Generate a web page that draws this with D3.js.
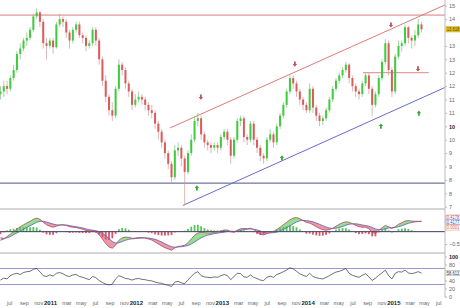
<!DOCTYPE html>
<html>
<head>
<meta charset="utf-8">
<script src="https://cdn.jsdelivr.net/npm/d3@7"></script>
<style>
body { margin: 0; background: #fff; }
svg { display: block; font-family: "Liberation Sans", Arial, sans-serif; }
</style>
</head>
<body>
<div id="chart"></div>
<script>
// biweekly candles, first one on 2010-06-04
var opens = [11.2,11.3,11.5,11.4,11.8,12.1,12.7,12.9,13.2,13.3,13.6,14.1,14.25,13.9,13.1,13.0,13.2,12.95,13.8,14.0,
	13.9,13.5,13.2,13.6,13.8,13.4,13.3,13.0,13.1,13.6,13.2,12.5,11.7,11.1,10.6,10.4,11.4,12.3,12.1,11.6,
	11.3,10.8,11.0,11.1,11.0,10.8,10.6,10.5,10.1,9.8,9.4,9.0,8.6,8.1,9.1,9.2,8.8,8.3,9.0,9.5,
	10.2,10.3,9.7,9.4,9.3,9.2,9.3,9.2,9.6,9.8,9.5,8.9,9.5,10.2,10.3,9.6,9.5,10.1,9.5,9.2,
	8.9,8.8,9.5,9.7,9.4,10.0,10.4,10.8,11.3,11.8,11.6,11.3,11.0,10.8,10.6,11.4,10.7,10.4,10.2,10.3,
	10.6,11.0,11.4,11.7,11.9,12.1,12.3,11.8,11.5,11.3,11.2,11.6,11.9,11.4,10.8,11.2,11.8,12.4,13.1,12.1,
	11.3,12.6,13.0,13.1,13.7,13.3,13.2,13.4,13.8];
var highs = [11.5,11.7,11.7,11.9,12.3,12.8,13.1,13.3,13.5,13.7,14.2,14.4,14.3,14.0,13.3,13.3,13.3,13.9,14.2,14.1,
	14.0,13.6,13.7,13.9,13.9,13.5,13.4,13.2,13.7,13.7,13.3,12.6,11.9,11.2,10.9,11.5,12.5,12.4,12.2,11.7,
	11.4,11.2,11.3,11.2,11.1,10.9,10.8,10.6,10.2,9.9,9.5,9.1,8.7,9.3,9.4,9.3,8.9,9.1,9.7,10.4,
	10.5,10.4,9.8,9.5,9.4,9.4,9.4,9.7,9.9,9.9,9.6,9.6,10.3,10.4,10.4,9.7,10.2,10.2,9.6,9.3,
	9.0,9.6,9.9,9.8,10.1,10.5,10.9,11.4,11.9,11.9,11.7,11.4,11.1,10.9,11.6,11.5,10.8,10.5,10.4,10.7,
	11.1,11.5,11.8,12.0,12.2,12.4,12.35,11.9,11.6,11.4,11.7,12.0,12.0,11.5,11.3,11.9,12.5,13.25,13.2,12.2,
	12.7,13.2,13.2,13.8,13.75,13.4,13.6,14.0,13.9];
var lows = [11.0,11.1,11.2,11.3,11.7,12.0,12.5,12.8,13.0,13.2,13.5,14.0,13.7,12.9,12.5,12.9,12.7,12.9,13.7,13.7,
	13.3,12.9,13.1,13.5,13.3,13.1,12.8,12.9,13.0,13.0,12.3,11.5,10.9,10.4,10.2,10.3,11.3,11.9,11.4,11.1,
	10.6,10.7,10.9,10.8,10.6,10.4,10.3,9.9,9.5,9.2,8.8,8.4,7.9,8.0,8.9,8.5,7.05,8.2,8.9,9.4,
	10.0,9.5,9.2,9.1,9.0,9.1,9.0,9.1,9.5,9.3,8.6,8.8,9.4,10.0,9.4,9.3,9.4,9.3,9.0,8.7,
	8.6,8.7,9.4,9.2,9.3,9.9,10.3,10.7,11.2,11.4,11.1,10.8,10.6,10.5,10.5,10.5,10.2,10.0,10.05,10.2,
	10.5,10.9,11.3,11.6,11.8,12.0,11.6,11.3,11.1,11.0,11.1,11.5,11.2,10.4,10.7,11.1,11.7,12.3,11.9,11.1,
	11.2,12.5,12.8,13.0,13.1,12.9,13.0,13.3,13.5];
var closes = [11.3,11.5,11.4,11.8,12.1,12.7,12.9,13.2,13.3,13.6,14.1,14.25,13.9,13.1,13.0,13.2,12.95,13.8,14.0,13.9,
	13.5,13.2,13.6,13.8,13.4,13.3,13.0,13.1,13.6,13.2,12.5,11.7,11.1,10.6,10.4,11.4,12.3,12.1,11.6,11.3,
	10.8,11.0,11.1,11.0,10.8,10.6,10.5,10.1,9.8,9.4,9.0,8.6,8.1,9.1,9.2,8.8,8.3,9.0,9.5,10.2,
	10.3,9.7,9.4,9.3,9.2,9.3,9.2,9.6,9.8,9.5,8.9,9.5,10.2,10.3,9.6,9.5,10.1,9.5,9.2,8.9,
	8.8,9.5,9.7,9.4,10.0,10.4,10.8,11.3,11.8,11.6,11.3,11.0,10.8,10.6,11.4,10.7,10.4,10.2,10.3,10.6,
	11.0,11.4,11.7,11.9,12.1,12.3,11.8,11.5,11.3,11.2,11.6,11.9,11.4,10.8,11.2,11.8,12.4,13.1,12.1,11.3,
	12.6,13.0,13.1,13.7,13.3,13.2,13.4,13.8,13.618];

var macdLine = [-0.35,-0.3,-0.2,-0.1,0.0,0.1,0.2,0.28,0.35,0.42,0.5,0.55,0.5,0.38,0.28,0.22,0.18,0.22,0.27,0.28,
	0.25,0.2,0.18,0.17,0.13,0.1,0.05,0.02,0.04,0.0,-0.12,-0.3,-0.48,-0.62,-0.67,-0.55,-0.35,-0.25,-0.22,-0.23,
	-0.27,-0.26,-0.24,-0.24,-0.26,-0.3,-0.34,-0.42,-0.5,-0.58,-0.65,-0.7,-0.75,-0.66,-0.6,-0.58,-0.55,-0.45,-0.3,-0.15,
	-0.05,-0.03,-0.04,-0.05,-0.05,-0.03,-0.01,0.02,0.06,0.07,0.0,-0.02,0.06,0.12,0.13,0.12,0.14,0.08,-0.02,-0.1,
	-0.13,-0.08,-0.03,0.0,0.08,0.18,0.28,0.38,0.48,0.55,0.57,0.53,0.45,0.37,0.35,0.28,0.2,0.13,0.08,0.06,
	0.08,0.14,0.22,0.3,0.36,0.4,0.38,0.32,0.26,0.2,0.18,0.18,0.12,-0.02,-0.08,0.05,0.16,0.25,0.2,0.13,
	0.2,0.3,0.36,0.43,0.45,0.43,0.42,0.42,0.4178];
var signalLine = [-0.25,-0.27,-0.25,-0.2,-0.12,-0.05,0.02,0.1,0.17,0.24,0.31,0.38,0.42,0.42,0.39,0.35,0.31,0.28,0.27,0.27,
	0.27,0.25,0.22,0.2,0.18,0.15,0.11,0.08,0.06,0.04,0.0,-0.07,-0.16,-0.28,-0.4,-0.46,-0.45,-0.4,-0.35,-0.31,
	-0.29,-0.28,-0.27,-0.26,-0.25,-0.26,-0.28,-0.31,-0.36,-0.42,-0.49,-0.55,-0.61,-0.63,-0.62,-0.61,-0.59,-0.56,-0.5,-0.42,
	-0.33,-0.25,-0.19,-0.14,-0.11,-0.08,-0.06,-0.04,-0.02,0.01,0.02,0.01,0.02,0.05,0.08,0.1,0.11,0.1,0.07,0.03,
	-0.02,-0.05,-0.05,-0.04,-0.02,0.03,0.09,0.16,0.24,0.32,0.39,0.44,0.46,0.45,0.43,0.4,0.35,0.3,0.24,0.19,
	0.15,0.13,0.14,0.17,0.21,0.26,0.3,0.32,0.32,0.3,0.27,0.25,0.22,0.17,0.11,0.08,0.09,0.12,0.15,0.16,
	0.17,0.2,0.24,0.29,0.34,0.37,0.4,0.41,0.4177];
var rsiLine = [41,46,44,52,56,58,55,60,62,63,68,70,62,52,50,54,51,58,60,57,
	52,50,54,55,50,48,45,42,50,47,40,35,31,29,31,44,52,49,45,44,
	41,44,45,43,42,40,39,36,34,33,30,28,25,36,38,34,32,42,50,58,
	62,52,49,48,47,49,48,52,55,52,42,50,58,57,49,48,54,48,45,41,
	40,48,51,48,55,58,62,66,72,69,63,57,53,50,58,50,47,45,44,48,
	52,57,61,63,66,70,58,53,50,48,53,57,49,40,46,53,59,66,52,44,
	58,62,61,66,59,57,59,62,58.613];

var priceTicks = [14.5, 14, 13, 12.5, 12, 11.5, 11, 10.5, 10, 9.5, 9, 8.5, 8, 7.5, 7];
var macdTicks = [-0.5];
var rsiTicks = [100, 80, 40, 20, 0];

// signals and drawn lines (date, price)
var sellDates = ["2012-10-04", "2013-11-08", "2014-12-22", "2015-04-16"];
var sellPrices = [11.09, 12.32, 13.78, 12.14];
var buyDates = ["2012-09-17", "2013-09-14", "2014-11-09", "2015-04-20"];
var buyPrices = [7.7, 8.82, 10.01, 10.49];
var upperChannel = [["2012-05-26", 9.94], ["2015-08-09", 14.53]];
var lowerChannel = [["2012-07-20", 7.05], ["2015-08-09", 11.45]];
var resistance = 14.15, support = 7.88;
var midLine = [["2014-08-25", 12.0], ["2015-06-01", 12.0]];

var parse = d3.timeParse("%Y-%m-%d");
var firstDate = new Date(2010, 5, 4);
var dates = closes.map(function(d, i) { return d3.timeDay.offset(firstDate, 14 * i); });

var width = 460, height = 308, plotRight = 445;

var svg = d3.select("#chart")
	.append("svg")
		.attr("width", width)
		.attr("height", height);

var x = d3.scaleTime()
	.domain([new Date(2010, 5, 2), new Date(2015, 7, 9)])
	.range([0, plotRight]);
var y = d3.scaleLinear().domain([7, 14.5]).range([206.7, 5.7]);
var yM = d3.scaleLinear().domain([-0.5, 1]).range([244, 207]);
var yR = d3.scaleLinear().domain([0, 100]).range([296.5, 256.5]);

svg.append("clipPath").attr("id", "mainClip")
	.append("rect").attr("x", 0).attr("y", 0).attr("width", plotRight).attr("height", 208);
svg.append("clipPath").attr("id", "macdClip")
	.append("rect").attr("x", 0).attr("y", 210).attr("width", plotRight).attr("height", 42);

// panel separators
[209, 253].forEach(function(v) {
	svg.append("rect").attr("x", 0).attr("y", v - 1).attr("width", plotRight).attr("height", 2).attr("fill", "#d6d6d6");
});

var main = svg.append("g").attr("clip-path", "url(#mainClip)");

// horizontal levels
main.append("line").attr("x1", 0).attr("x2", plotRight)
	.attr("y1", y(resistance)).attr("y2", y(resistance))
	.attr("stroke", "#e07a7a").attr("stroke-width", 1);
main.append("line").attr("x1", 0).attr("x2", plotRight)
	.attr("y1", y(support)).attr("y2", y(support))
	.attr("stroke", "#50508a").attr("stroke-width", 1);

var seg = d3.line()
	.x(function(d) { return x(parse(d[0])); })
	.y(function(d) { return y(d[1]); });

main.append("path").attr("d", seg(upperChannel)).attr("fill", "none").attr("stroke", "#e07a7a").attr("stroke-width", 1);
main.append("path").attr("d", seg(lowerChannel)).attr("fill", "none").attr("stroke", "#6a6ad0").attr("stroke-width", 1);
main.append("path").attr("d", seg(midLine)).attr("fill", "none").attr("stroke", "#d98a8a").attr("stroke-width", 1);

// candles
var candles = main.selectAll("g.candle")
	.data(closes)
	.enter()
	.append("g")
	.attr("class", "candle");

candles.append("line")
	.attr("x1", function(d, i) { return x(dates[i]); })
	.attr("x2", function(d, i) { return x(dates[i]); })
	.attr("y1", function(d, i) { return y(highs[i]); })
	.attr("y2", function(d, i) { return y(lows[i]); })
	.attr("stroke", function(d, i) { return d >= opens[i] ? "#7fbf7f" : "#c99"; })
	.attr("stroke-width", 0.7);

candles.append("rect")
	.attr("x", function(d, i) { return x(dates[i]) - 1; })
	.attr("width", 2)
	.attr("y", function(d, i) { return y(Math.max(d, opens[i])); })
	.attr("height", function(d, i) { return Math.max(1, Math.abs(y(d) - y(opens[i]))); })
	.attr("fill", function(d, i) { return d >= opens[i] ? "#3ccc3c" : "#dd5a5a"; });

// signal arrows
var downArrow = "M-0.9,-2.6V0H-2.2L0,2.6L2.2,0H0.9V-2.6Z";
var upArrow = "M-0.9,2.6V0H-2.2L0,-2.6L2.2,0H0.9V2.6Z";
main.selectAll("path.sell")
	.data(sellDates)
	.enter()
	.append("path")
	.attr("class", "sell")
	.attr("d", downArrow)
	.attr("transform", function(d, i) { return "translate(" + x(parse(d)) + "," + y(sellPrices[i]) + ")"; })
	.attr("fill", "#c0505a");
main.selectAll("path.buy")
	.data(buyDates)
	.enter()
	.append("path")
	.attr("class", "buy")
	.attr("d", upArrow)
	.attr("transform", function(d, i) { return "translate(" + x(parse(d)) + "," + y(buyPrices[i]) + ")"; })
	.attr("fill", "#3aa53a");

// MACD panel
var mp = svg.append("g").attr("clip-path", "url(#macdClip)");
var topY = 210, botY = 252;
var between = d3.area()
	.x(function(d, i) { return x(dates[i]); })
	.y0(function(d, i) { return yM(signalLine[i]); })
	.y1(function(d) { return yM(d); });
var aboveSig = d3.area()
	.x(function(d, i) { return x(dates[i]); })
	.y0(topY)
	.y1(function(d) { return yM(d); });
var belowSig = d3.area()
	.x(function(d, i) { return x(dates[i]); })
	.y0(botY)
	.y1(function(d) { return yM(d); });
svg.append("clipPath").attr("id", "sigAbove").append("path").attr("d", aboveSig(signalLine));
svg.append("clipPath").attr("id", "sigBelow").append("path").attr("d", belowSig(signalLine));

mp.append("g").attr("clip-path", "url(#sigAbove)")
	.append("path").attr("d", between(macdLine)).attr("fill", "#77d977").attr("opacity", 0.8);
mp.append("g").attr("clip-path", "url(#sigBelow)")
	.append("path").attr("d", between(macdLine)).attr("fill", "#e8808e").attr("opacity", 0.8);

mp.selectAll("rect.hist")
	.data(macdLine)
	.enter()
	.append("rect")
	.attr("class", "hist")
	.attr("x", function(d, i) { return x(dates[i]) - 0.9; })
	.attr("width", 1.8)
	.attr("y", function(d, i) { return Math.min(yM(0), yM(d - signalLine[i])); })
	.attr("height", function(d, i) { return Math.abs(yM(d - signalLine[i]) - yM(0)); })
	.attr("fill", function(d, i) { return d >= signalLine[i] ? "#55c455" : "#dd5566"; });

mp.append("line").attr("x1", 0).attr("x2", plotRight).attr("y1", yM(0)).attr("y2", yM(0))
	.attr("stroke", "#3c3c66").attr("stroke-width", 1);

var mline = d3.line()
	.x(function(d, i) { return x(dates[i]); })
	.y(function(d) { return yM(d); });
mp.append("path").attr("d", mline(signalLine)).attr("fill", "none").attr("stroke", "#5a5ab8").attr("stroke-width", 0.8);
mp.append("path").attr("d", mline(macdLine)).attr("fill", "none").attr("stroke", "#b04a5a").attr("stroke-width", 0.8);

// RSI panel
[70, 30].forEach(function(v) {
	svg.append("line").attr("x1", 0).attr("x2", plotRight).attr("y1", yR(v)).attr("y2", yR(v))
		.attr("stroke", "#8080c8").attr("stroke-width", 0.8);
});
var rline = d3.line()
	.x(function(d, i) { return x(dates[i]); })
	.y(function(d) { return yR(d); });
svg.append("path").attr("d", rline(rsiLine)).attr("fill", "none").attr("stroke", "#333").attr("stroke-width", 0.7);

// right axes
function styleAxis(g, boldVal) {
	g.select(".domain").attr("stroke", "#bbb");
	g.selectAll(".tick line").attr("stroke", "#bbb");
	g.selectAll(".tick text")
		.attr("fill", function(d) { return d === boldVal ? "#222" : "#666"; })
		.attr("font-weight", function(d) { return d === boldVal ? "bold" : "normal"; })
		.attr("font-size", 5.5);
}
svg.append("g").attr("transform", "translate(" + plotRight + ",0)")
	.call(d3.axisRight(y).tickValues(priceTicks).tickSize(2).tickPadding(2).tickSizeOuter(0))
	.call(styleAxis, 10);
svg.append("g").attr("transform", "translate(" + plotRight + ",0)")
	.call(d3.axisRight(yM).tickValues(macdTicks).tickSize(2).tickPadding(2).tickSizeOuter(0))
	.call(styleAxis, null);
svg.append("g").attr("transform", "translate(" + plotRight + ",0)")
	.call(d3.axisRight(yR).tickValues(rsiTicks).tickSize(2).tickPadding(2).tickSizeOuter(0))
	.call(styleAxis, 100);
svg.selectAll(".domain").remove();
svg.append("line").attr("x1", plotRight).attr("x2", plotRight).attr("y1", 0).attr("y2", 298).attr("stroke", "#bbb");

// value boxes
function valueBox(v, scale, label, fill, stroke, color) {
	var cy = scale(v);
	svg.append("rect").attr("x", plotRight + 1).attr("y", cy - 2.6).attr("width", 15).attr("height", 5.2)
		.attr("fill", fill).attr("stroke", stroke).attr("stroke-width", 0.6);
	svg.append("text").attr("x", plotRight + 1.8).attr("y", cy + 1.7).attr("font-size", 4.6)
		.attr("textLength", 12.6).attr("lengthAdjust", "spacingAndGlyphs")
		.attr("fill", color).text(label);
}
valueBox(closes[closes.length - 1], y, "13.618", "#f0c419", "#d8a800", "#333");
valueBox(0.57, yM, "0.4178", "#fff", "#e08a95", "#c04a5a");
valueBox(0.39, yM, "0.4177", "#fff", "#8a8ae0", "#4a4ab0");
valueBox(0.17, yM, "0.0001", "#fff", "#e89a8a", "#d06a40");
valueBox(rsiLine[rsiLine.length - 1], yR, "58.613", "#fff", "#aaa", "#333");

// time axis
var monthFmt = d3.timeFormat("%b"), yearFmt = d3.timeFormat("%Y");
var xAxis = svg.append("g").attr("transform", "translate(0,298)")
	.call(d3.axisBottom(x).ticks(d3.timeMonth.every(2)).tickSize(0).tickPadding(3)
		.tickFormat(function(d) { return d.getMonth() === 0 ? yearFmt(d) : monthFmt(d).toLowerCase(); }));
xAxis.select(".domain").remove();
xAxis.selectAll(".tick text")
	.attr("font-size", function(d) { return d.getMonth() === 0 ? 6 : 5.5; })
	.attr("font-weight", function(d) { return d.getMonth() === 0 ? "bold" : "normal"; })
	.attr("fill", function(d) { return d.getMonth() === 0 ? "#222" : "#666"; })
	.attr("dx", function(d) { return d.getMonth() === 0 ? 0 : 2.5; });
</script>
</body>
</html>
